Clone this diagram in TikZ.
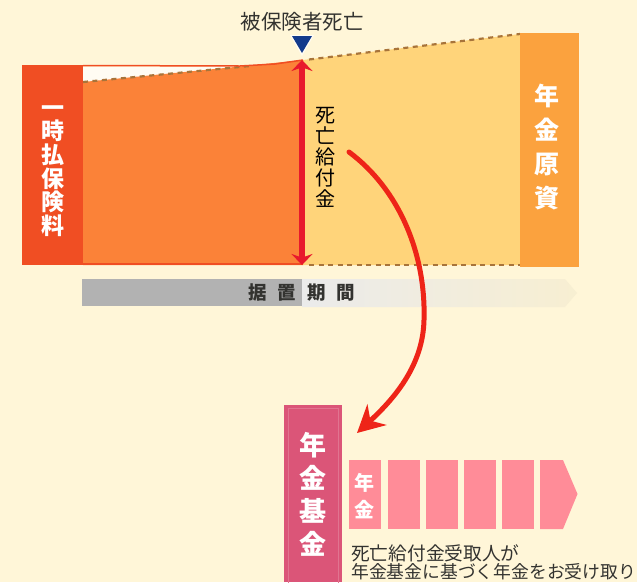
\documentclass[tikz,border=0pt]{standalone}
\usepackage{fontspec}
\setmainfont{Noto Sans CJK JP}
\usetikzlibrary{arrows.meta,calc}
\definecolor{bg}{HTML}{FFF6D8}
\definecolor{redbox}{HTML}{F04E23}
\definecolor{orangefill}{HTML}{FB8238}
\definecolor{lightfill}{HTML}{FFD47A}
\definecolor{rightbox}{HTML}{FBA23E}
\definecolor{arrowred}{HTML}{E8192C}
\definecolor{curvered}{HTML}{EE2418}
\definecolor{dashbrown}{HTML}{A8743A}
\definecolor{navy}{HTML}{123A8C}
\definecolor{fundbox}{HTML}{DB5578}
\definecolor{pinkblock}{HTML}{FF8C98}
\definecolor{ink}{HTML}{333330}
\tikzset{
  x=1pt,y=-1pt,
  vlabel/.style={inner sep=0pt,align=center,text=white},
  dashline/.style={draw=dashbrown,line width=2.2pt,dash pattern=on 5pt off 4.5pt},
  block/.style={fill=pinkblock,draw=none},
  darklabel/.style={inner sep=0pt,text=ink},
}
\begin{document}
\begin{tikzpicture}
\useasboundingbox (0,0) rectangle (637,582);
\begin{scope}
\clip (0,0) rectangle (637,582);
\fill[bg] (0,0) rectangle (637,582);
% body
\fill[lightfill] (303,60) -- (520,34) -- (520,265) -- (303,265) -- cycle;
\fill[white!70!bg] (83,67) rectangle (245,84);
\fill[orangefill] (83,82) -- (240,66.5) -- (303,60) -- (303,265) -- (83,265) -- cycle;
\draw[dashline] (83,82) -- (250,66);
\draw[redbox,line width=1.5pt] (83,65.5) -- (240,66) -- (275,64) -- (303,60);
\draw[redbox,line width=1.5pt] (83,264) -- (303,264);
\draw[dashline] (309,59.5) -- (520,34);
\draw[dashline] (309,265) -- (520,265);
% side boxes
\fill[redbox] (22,65) rectangle (83,265);
\fill[rightbox] (520,33) rectangle (579,267);
\node[vlabel,font=\bfseries\fontsize{23}{23.6}\selectfont] (premium) at (53,171) {一\\時\\払\\保\\険\\料};
\node[vlabel,font=\bfseries\fontsize{25}{34}\selectfont] (source) at (547,147) {年\\金\\原\\資};
% top marker
\node[darklabel,font=\fontsize{20.5}{22}\selectfont] (death) at (302,22) {被保険者死亡};
\fill[white!70!bg] (290,35) -- (314,35) -- (302,56) -- cycle;
\fill[navy] (292,36) -- (312,36) -- (302,53) -- cycle;
% deferred period bar
\shade[left color=black!8,right color=black!3!bg] (302,279) -- (565,279) -- (577,293) -- (565,307) -- (302,307) -- cycle;
\fill[black!30] (82,279) rectangle (302,306);
\node[darklabel,font=\bfseries\fontsize{18.5}{20}\selectfont] (period) at (302,293) {据\hspace{11pt}置\hspace{11pt}期\hspace{11pt}間};
% death benefit
\coordinate (dtop) at (302,60);
\coordinate (dbot) at (302,265);
\draw[arrowred,line width=6.5pt,{Stealth[length=11pt,width=21pt]}-{Stealth[length=11pt,width=21pt]}] (dtop) -- (dbot);
\node[darklabel,text=black,align=center,font=\fontsize{20}{21}\selectfont] (benefit) at (325,157) {死\\亡\\給\\付\\金};
% transfer curve
\coordinate (cstart) at (349,152);
\coordinate (cend) at (357,433);
\draw[curvered,line width=5pt,line cap=round,-{Stealth[length=27pt,width=28pt]}] (cstart) .. controls (400,190) and (426,255) .. (424,320) .. controls (423,365) and (395,398) .. (cend);
% fund
\fill[fundbox] (284,405) rectangle (342,582);
\draw[white!18!fundbox,line width=0.6pt] (288,408) rectangle (338,590);
\node[vlabel,font=\bfseries\fontsize{27}{33}\selectfont] (fund) at (313,494) {年\\金\\基\\金};
% annuity blocks
\fill[block] (349,460) rectangle (381,529);
\fill[block] (388,460) rectangle (420,529);
\fill[block] (426,460) rectangle (458,529);
\fill[block] (464,460) rectangle (496,529);
\fill[block] (502,460) rectangle (534,529);
\fill[block] (540,460) -- (563,460) -- (577.5,494) -- (563,529) -- (540,529) -- cycle;
\node[vlabel,font=\bfseries\fontsize{20}{27}\selectfont] (annuity) at (364,496) {年\\金};
\node[darklabel,anchor=west,font=\fontsize{18.7}{20}\selectfont] (cap1) at (351,553) {死亡給付金受取人が};
\node[darklabel,anchor=west,font=\fontsize{17.8}{20}\selectfont] (cap2) at (351,572) {年金基金に基づく年金をお受け取り};
\end{scope}
\end{tikzpicture}
\end{document}
